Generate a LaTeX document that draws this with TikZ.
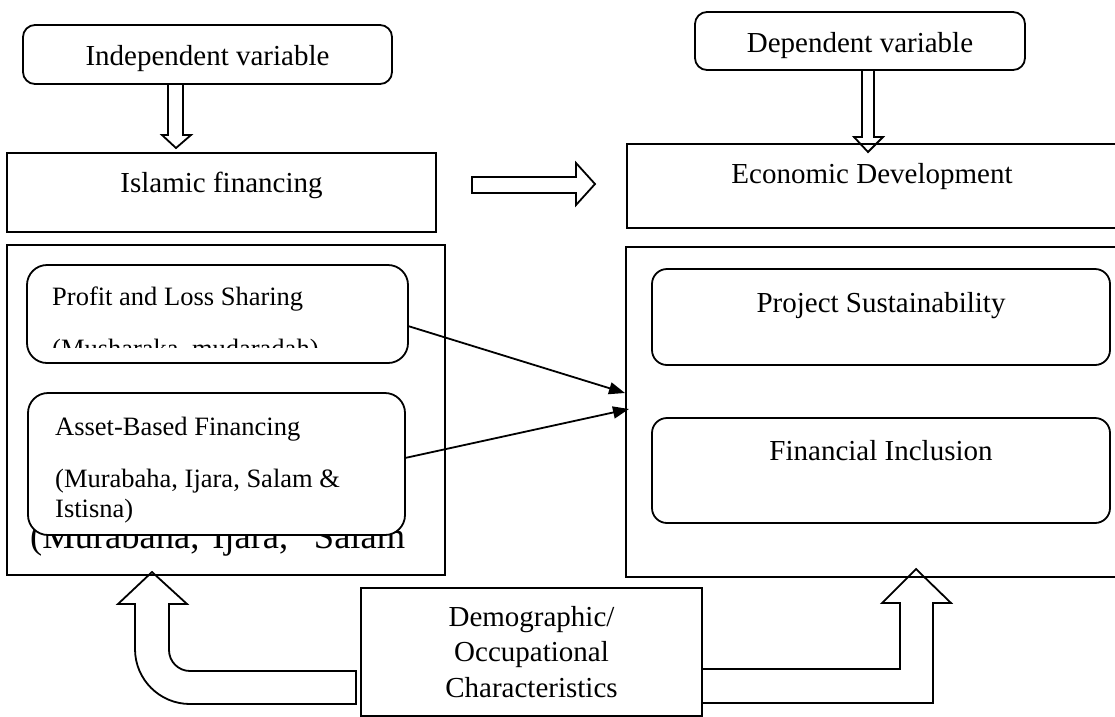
\documentclass[tikz,border=0pt]{standalone}
\usepackage{fontspec}
\setmainfont{Liberation Serif}
\usetikzlibrary{arrows.meta,calc}
\newcommand\mainsz{\fontsize{29}{35.5}\selectfont}
\newcommand\innsz{\fontsize{26.5}{32}\selectfont}
\newcommand\bigsz{\fontsize{36.5}{44}\selectfont}
\begin{document}
\begin{tikzpicture}[x=1pt,y=-1pt,
  box/.style={draw, line width=1.8pt, outer sep=0pt, inner sep=0pt, font=\mainsz},
  roundbox/.style={box, rounded corners=#1},
  blockarrow/.style={draw, line width=1.8pt, line join=miter},
  link/.style={line width=1.8pt, -{Triangle[length=16pt,width=12pt]}},
  lefttext/.style={anchor=base west, inner sep=0pt, font=\innsz}]
\path[use as bounding box] (0,0) rectangle (1115,716);
\clip (0,0) rectangle (1115,716);

% top row
\node[roundbox=12pt, minimum width=369pt, minimum height=59pt, text height=31pt, text depth=10pt] (indep) at (207.5,54.5) {Independent variable};
\node[box, minimum width=429pt, minimum height=79pt, text height=10pt, text depth=10pt] (isf) at (221.5,192.5) {Islamic financing};
\node[roundbox=12pt, minimum width=330pt, minimum height=58pt, text height=32pt, text depth=10pt] (dep) at (860,41) {Dependent variable};
\node[box, minimum width=490pt, minimum height=84pt, text height=4pt, text depth=10pt] (econ) at (872,186) {Economic Development};

% block arrows at top
\draw[blockarrow] (168,84) -- (168,135) -- (162,135) -- (176,148) -- (191,135) -- (183,135) -- (183,84);
\draw[blockarrow] (862,70) -- (862,137) -- (854,137) -- (868,152) -- (883,137) -- (874,137) -- (874,70);
\draw[blockarrow] (472,177) -- (576,177) -- (576,163) -- (595,184) -- (576,205) -- (576,193) -- (472,193) -- cycle;

% left group
\node[box, minimum width=438pt, minimum height=330pt] (lbox) at (226,410) {};
\node[anchor=base west, inner sep=0pt, font=\bigsz] (bigt) at (30,548) {\hbox to 375pt{(Murabaha,\hfill Ijara,\hfill\hfill Salam}};
\node[roundbox=20pt, fill=white, minimum width=381pt, minimum height=98pt] (pls) at (217.5,314) {};
\node[roundbox=20pt, fill=white, minimum width=377pt, minimum height=142pt] (ab) at (216.5,464) {};
\node[lefttext] (plst) at ($(pls.north west)+(25,40)$) {Profit and Loss Sharing};
\begin{scope}
\clip (40,320) rectangle (400,347);
\node[lefttext] (plsub) at ($(pls.north west)+(25,92)$) {(Musharaka, mudaradah)};
\end{scope}
\node[lefttext] (abt) at ($(ab.north west)+(27,42)$) {Asset-Based Financing};
\node[lefttext] (abs1) at ($(ab.north west)+(27,94)$) {(Murabaha, Ijara, Salam \&};
\node[lefttext] (abs2) at ($(ab.north west)+(27,124)$) {Istisna)};

% right group
\node[box, minimum width=492pt, minimum height=330pt] (rbx) at (872,412) {};
\node[roundbox=15pt, minimum width=458pt, minimum height=96pt, text height=0pt, text depth=10pt] (ps) at (881,317) {Project Sustainability};
\node[roundbox=15pt, minimum width=458pt, minimum height=105pt, text height=0pt, text depth=21pt] (fi) at (881,470.5) {Financial Inclusion};

% connectors
\draw[link] ($(pls.east)+(0,12)$) -- ($(rbx.west)+(-1,-19)$);
\draw[link] ($(ab.east)+(0,-6)$) -- ($(rbx.west)+(3,-3)$);

% bottom
\node[box, minimum width=341pt, minimum height=128pt, align=center] (demo) at (531.5,652) {Demographic/\\Occupational\\Characteristics};
\draw[blockarrow] (356,704) -- (356,671) -- (190,671) .. controls (178.4,671) and (169,661.6) .. (169,650) -- (169,604) -- (187,604) -- (152,572) -- (118,604) -- (135,604) -- (135,649) .. controls (135,679.4) and (159.6,704) .. (190,704) -- cycle;
\draw[blockarrow] (702,669) -- (900,669) -- (900,603) -- (882,603) -- (916,569) -- (951,603) -- (933,603) -- (933,703) -- (702,703);
\end{tikzpicture}
\end{document}
